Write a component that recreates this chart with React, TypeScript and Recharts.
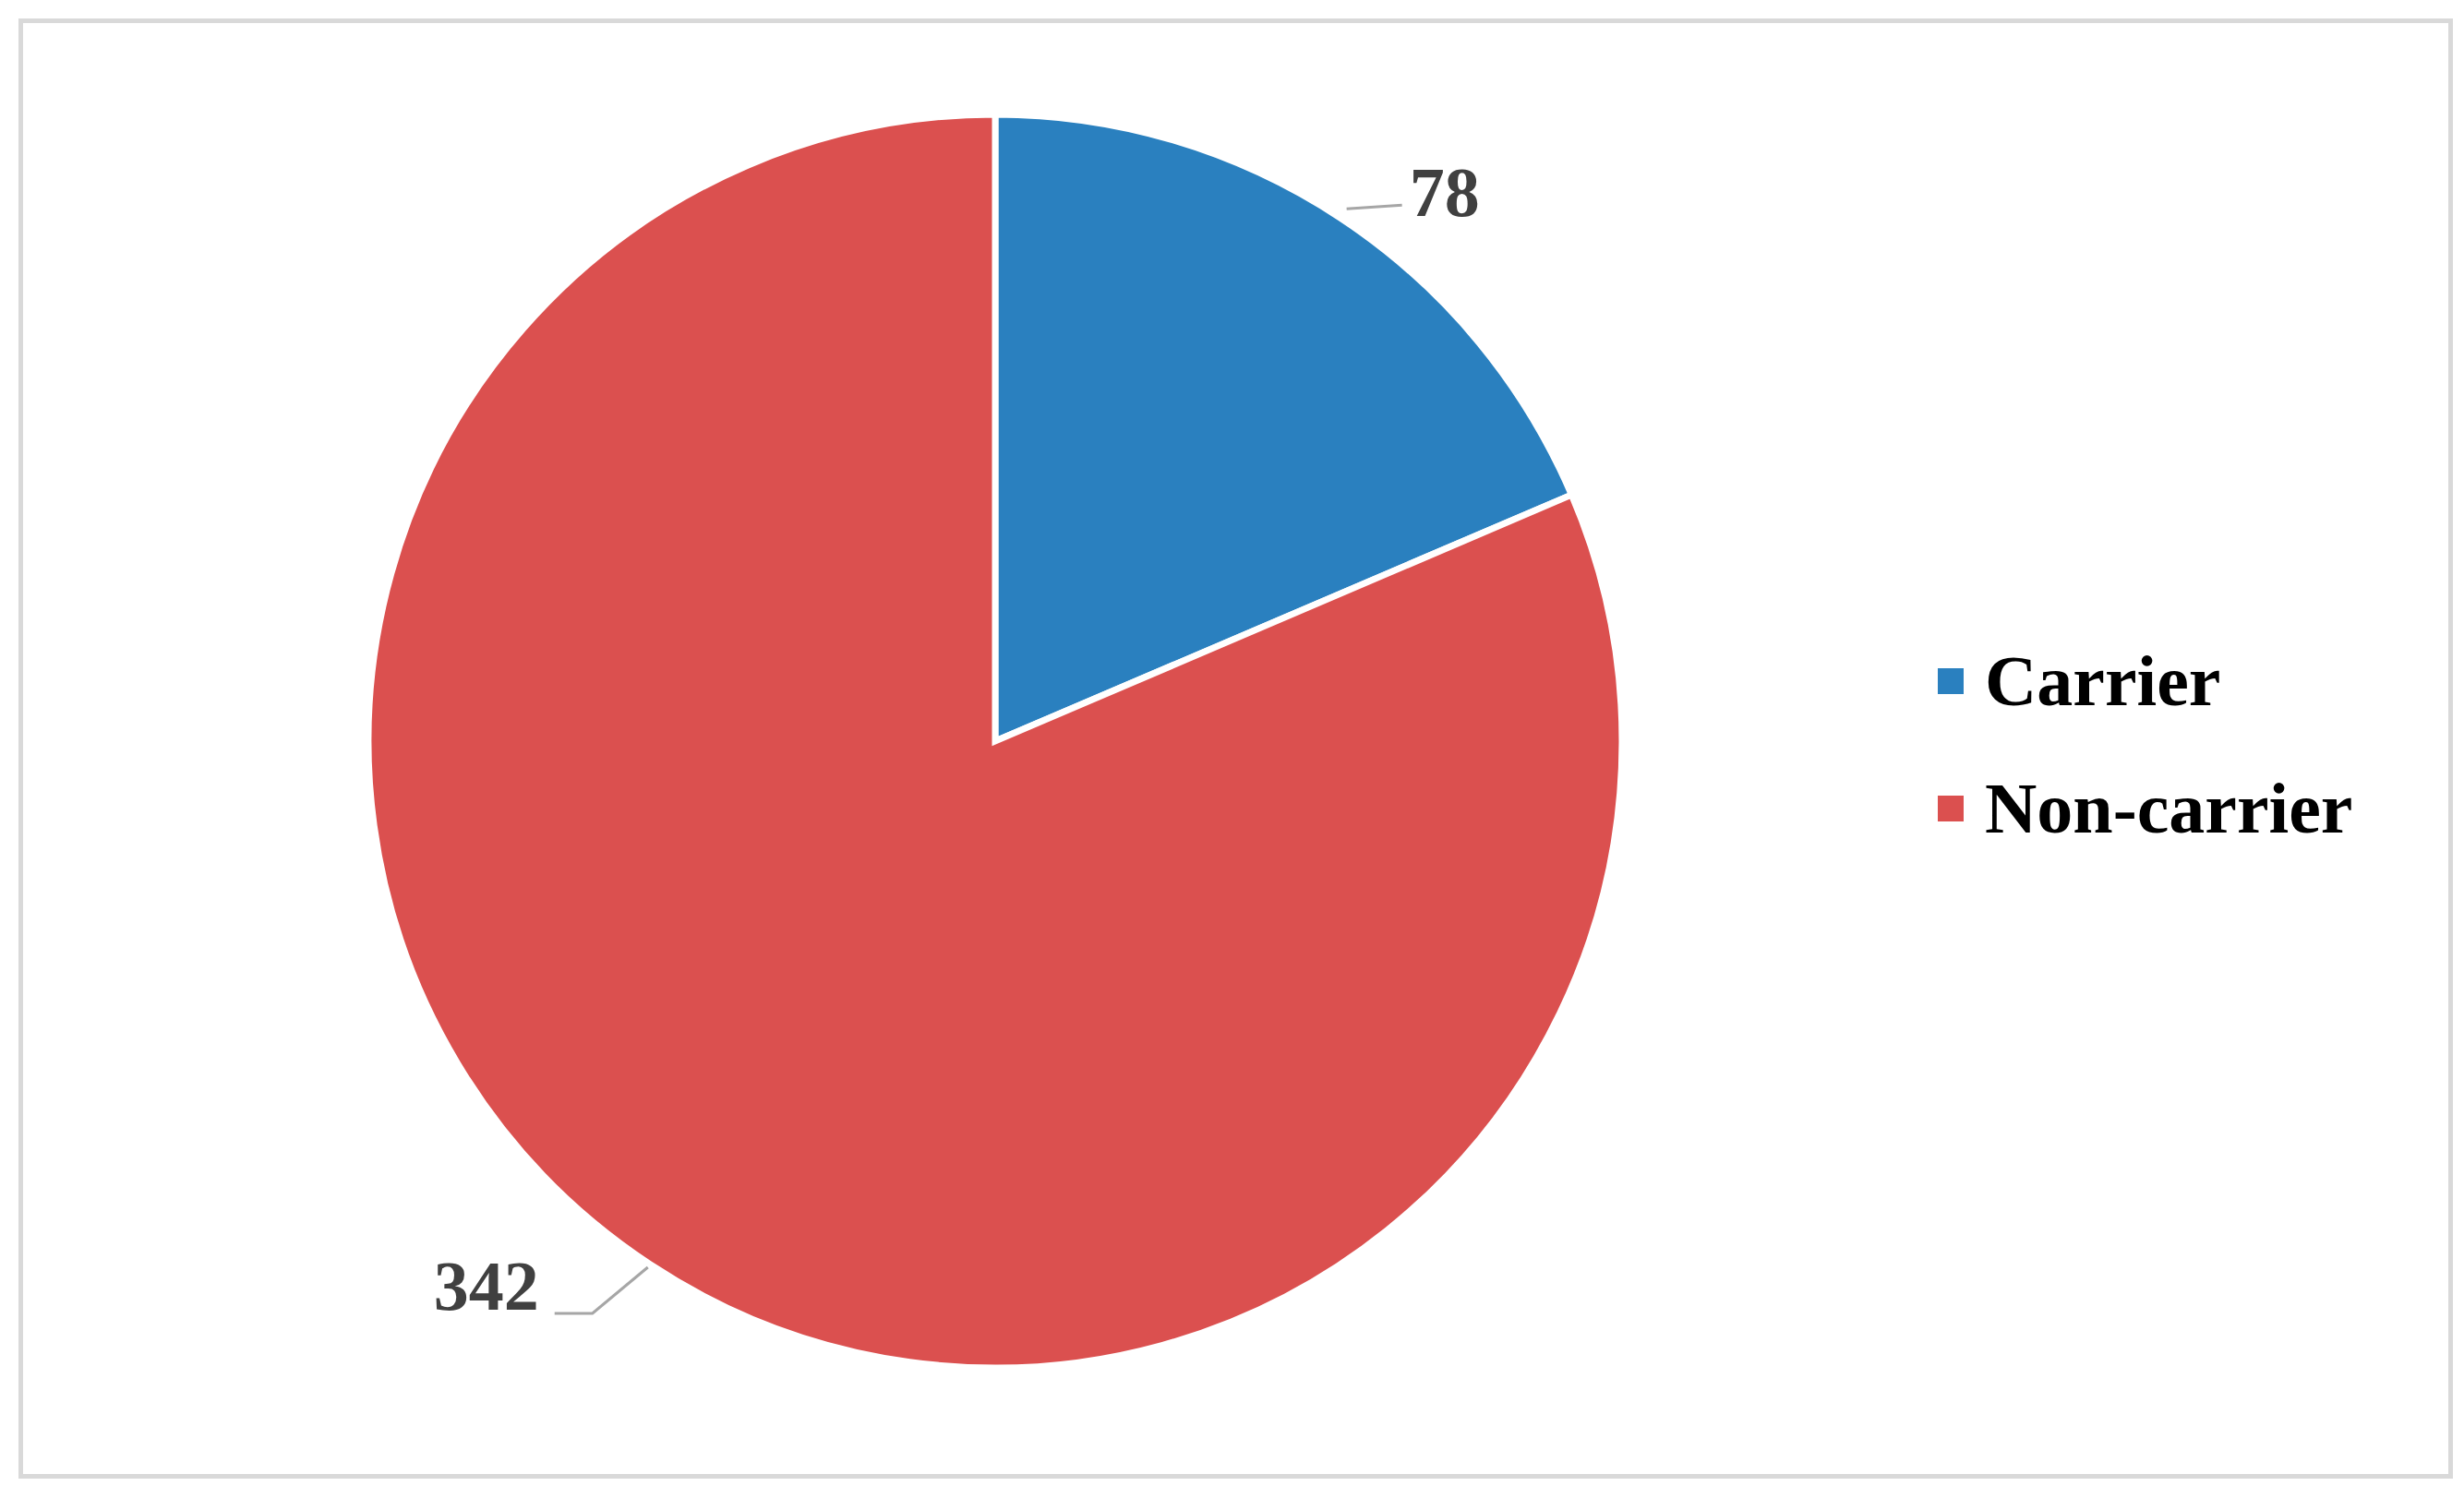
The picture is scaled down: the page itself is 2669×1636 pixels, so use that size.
import { PieChart, Pie, Cell, Legend } from "recharts";

const categories = ["Carrier", "Non-carrier"];
const counts = [78, 342];
const colors = ["#2a80bf", "#db504f"];

const data = categories.map((name, i) => ({ name, value: counts[i] }));

const RAD = Math.PI / 180;
const FONT = "'Liberation Serif', 'Times New Roman', serif";

// Excel-style callout: short leader line from the slice edge, bold value next to it
const renderLabel = (props: any) => {
  const { cx, cy, midAngle, outerRadius, value } = props;
  const cos = Math.cos(-midAngle * RAD);
  const sin = Math.sin(-midAngle * RAD);
  const right = cos >= 0;
  const r = outerRadius + (right ? 12 : 4);
  const sx = cx + r * cos;
  const sy = cy + r * sin;
  let path: string;
  let tx: number;
  let ty: number;
  if (right) {
    const ex = sx + 60;
    path = `M${sx},${sy}L${ex},${sy - 4}`;
    tx = ex + 8;
    ty = sy + 8;
  } else {
    const mx = sx - 60;
    const my = sy + 50;
    const ex = mx - 41;
    path = `M${sx},${sy}L${mx},${my}L${ex},${my}`;
    tx = ex - 17;
    ty = my - 4;
  }
  return (
    <g>
      <path d={path} stroke="#a6a6a6" strokeWidth={3} fill="none" />
      <text
        x={tx}
        y={ty}
        textAnchor={right ? "start" : "end"}
        fill="#404040"
        fontFamily={FONT}
        fontWeight="bold"
        fontSize={76}
      >
        {value}
      </text>
    </g>
  );
};

const renderLegend = () => (
  <div>
    {categories.map((name, i) => (
      <div
        key={name}
        style={{ display: "flex", alignItems: "center", height: 138 }}
      >
        <div
          style={{ width: 28, height: 28, background: colors[i], marginRight: 23 }}
        />
        <span
          style={{
            fontFamily: FONT,
            fontWeight: "bold",
            fontSize: 78,
            color: "#000",
            lineHeight: 1.15,
          }}
        >
          {name}
        </span>
      </div>
    ))}
  </div>
);

export default function App() {
  return (
    <div
      style={{
        position: "absolute",
        left: 0,
        top: 0,
        width: 2669,
        height: 1636,
        background: "#fff",
      }}
    >
      <div
        style={{
          position: "absolute",
          left: 20,
          top: 20,
          width: 2637,
          height: 1582,
          border: "5px solid #d9d9d9",
          boxSizing: "border-box",
        }}
      />
      <PieChart width={2669} height={1636} style={{ position: "absolute", left: 0, top: 0 }}>
        <Pie
          data={data}
          dataKey="value"
          nameKey="name"
          cx={1073}
          cy={798}
          outerRadius={679}
          startAngle={90}
          endAngle={-270}
          stroke="#ffffff"
          strokeWidth={7}
          label={renderLabel}
          labelLine={false}
          isAnimationActive={false}
        >
          {data.map((d, i) => (
            <Cell key={d.name} fill={colors[i]} />
          ))}
        </Pie>
        <Legend
          content={renderLegend}
          wrapperStyle={{ left: 2099, top: 669, width: 520 }}
        />
      </PieChart>
    </div>
  );
}
